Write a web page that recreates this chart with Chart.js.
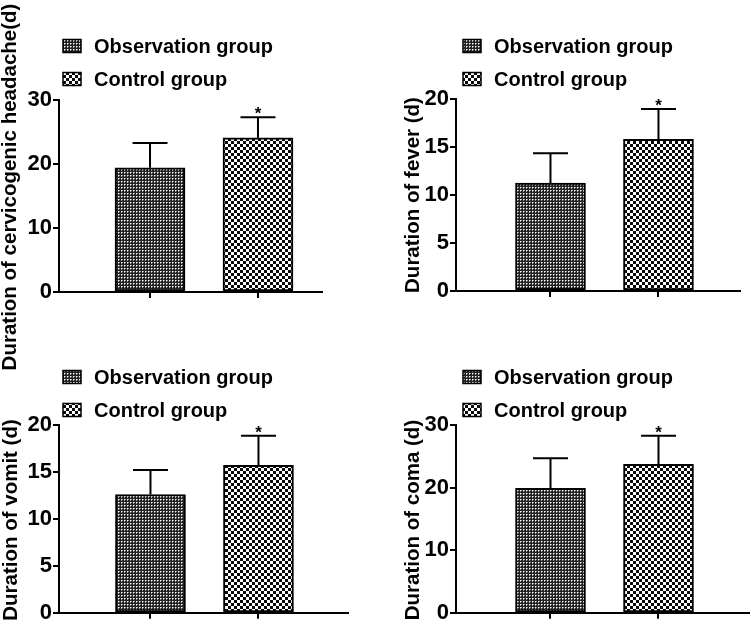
<!DOCTYPE html>
<html>
<head>
<meta charset="utf-8">
<script src="https://cdn.jsdelivr.net/npm/chart.js@4.4.1/dist/chart.umd.min.js"></script>
<style>
  html, body { margin: 0; padding: 0; background: #fff; }
  #wrap { position: relative; width: 751px; height: 627px; overflow: hidden; }
  #wrap canvas { position: absolute; left: 0; top: 0; }
</style>
</head>
<body>
<div id="wrap">
  <canvas id="c1" width="751" height="627"></canvas>
  <canvas id="c2" width="751" height="627"></canvas>
  <canvas id="c3" width="751" height="627"></canvas>
  <canvas id="c4" width="751" height="627"></canvas>
</div>
<script>
// ---------- data ----------
const groups = ['Observation group', 'Control group'];
const significant = [false, true];

const headacheMean = [19.4, 24.1];
const headacheSd = [3.9, 3.2];
const feverMean = [11.25, 15.8];
const feverSd = [3.1, 3.15];
const vomitMean = [12.6, 15.7];
const vomitSd = [2.6, 3.15];
const comaMean = [19.9, 23.7];
const comaSd = [4.8, 4.6];

const ticks30 = [0, 10, 20, 30];
const ticks20 = [0, 5, 10, 15, 20];

const FONT = '"Liberation Sans", Arial, Helvetica, sans-serif';
const Y_W = 50;   // fixed width of the y axis box
const X_H = 10;   // fixed height of the x axis box

// ---------- fill patterns ----------
function makePattern(size, draw) {
  const c = document.createElement('canvas');
  c.width = c.height = size;
  const g = c.getContext('2d');
  draw(g);
  return g.createPattern(c, 'repeat');
}

const obsFill = makePattern(3, g => {
  g.fillStyle = '#222222'; g.fillRect(0, 0, 3, 3);
  g.fillStyle = '#ffffff'; g.fillRect(1, 1, 1, 1);
  g.fillStyle = '#999999'; g.fillRect(2, 1, 1, 1); g.fillRect(1, 2, 1, 1);
});
const ctrlFill = makePattern(6, g => {
  g.fillStyle = '#ffffff'; g.fillRect(0, 0, 6, 6);
  g.fillStyle = '#0a0a0a'; g.fillRect(0, 0, 3, 3); g.fillRect(3, 3, 3, 3);
});
const fills = [obsFill, ctrlFill];

// ---------- error bars, stars, legend, y title ----------
const panelExtras = {
  id: 'panelExtras',
  afterDatasetsDraw(chart, args, o) {
    const ctx = chart.ctx;
    const ys = chart.scales.y;
    ctx.save();
    ctx.strokeStyle = '#000';
    ctx.fillStyle = '#000';
    ctx.lineWidth = 2;

    chart.data.datasets.forEach((ds, i) => {
      const bar = chart.getDatasetMeta(i).data[0];
      const mean = ds.data[0].y;
      const top = ys.getPixelForValue(mean + o.sd[i]);
      const half = bar.width / 4;
      ctx.beginPath();
      ctx.moveTo(bar.x, bar.y);
      ctx.lineTo(bar.x, top);
      ctx.moveTo(bar.x - half, top);
      ctx.lineTo(bar.x + half, top);
      ctx.stroke();
      if (significant[i]) {
        ctx.font = `bold 17px ${FONT}`;
        ctx.textAlign = 'center';
        ctx.textBaseline = 'alphabetic';
        ctx.fillText('*', bar.x, top + 2);
      }
    });

    // legend
    const [lx, ly] = o.legendAt;
    chart.data.datasets.forEach((ds, i) => {
      const cy = ly + i * 33;
      ctx.fillStyle = ds.backgroundColor;
      ctx.fillRect(lx - 9, cy - 6.5, 18, 13);
      ctx.lineWidth = 1.5;
      ctx.strokeRect(lx - 9, cy - 6.5, 18, 13);
      ctx.fillStyle = '#000';
      ctx.font = `bold 20px ${FONT}`;
      ctx.textAlign = 'left';
      ctx.textBaseline = 'middle';
      ctx.fillText(ds.label, lx + 22, cy + 1);
    });

    // y axis title
    ctx.translate(o.titleAt[0], o.titleAt[1]);
    ctx.rotate(-Math.PI / 2);
    ctx.font = `bold 20.5px ${FONT}`;
    ctx.textAlign = 'center';
    ctx.textBaseline = 'middle';
    ctx.fillText(o.title, 0, 0);
    ctx.restore();
  }
};

// ---------- panels ----------
const panels = [
  { id: 'c1', title: 'Duration of cervicogenic headache(d)', mean: headacheMean, sd: headacheSd, ticks: ticks30,
    area: { left: 59, right: 322, top: 100, bottom: 292 }, xRange: [0.157, 2.593], titleAt: [10, 187], legendAt: [72, 46] },
  { id: 'c2', title: 'Duration of fever (d)', mean: feverMean, sd: feverSd, ticks: ticks20,
    area: { left: 456, right: 740, top: 99, bottom: 291 }, xRange: [0.125, 2.755], titleAt: [413, 195], legendAt: [472, 46] },
  { id: 'c3', title: 'Duration of vomit (d)', mean: vomitMean, sd: vomitSd, ticks: ticks20,
    area: { left: 59, right: 348, top: 425, bottom: 617 }, xRange: [0.153, 2.829], titleAt: [11, 520], legendAt: [72, 377] },
  { id: 'c4', title: 'Duration of coma (d)', mean: comaMean, sd: comaSd, ticks: ticks30,
    area: { left: 456, right: 749, top: 425, bottom: 616 }, xRange: [0.125, 2.838], titleAt: [413, 520], legendAt: [472, 377] }
];

const axisLine = { color: '#000', width: 2 };
const tickGrid = { offset: false, drawOnChartArea: false, drawTicks: true, tickLength: 6, color: '#000', lineWidth: 2 };

panels.forEach(p => {
  new Chart(document.getElementById(p.id), {
    type: 'bar',
    data: {
      datasets: groups.map((g, i) => ({
        label: g,
        data: [{ x: i + 1, y: p.mean[i] }],
        backgroundColor: fills[i],
        borderColor: '#000',
        borderWidth: 2,
        borderSkipped: false,
        grouped: false,
        barThickness: 70
      }))
    },
    options: {
      responsive: false,
      animation: false,
      events: [],
      layout: {
        padding: {
          left: p.area.left - Y_W,
          right: 751 - p.area.right,
          top: p.area.top,
          bottom: 627 - p.area.bottom - X_H
        }
      },
      plugins: {
        legend: { display: false },
        tooltip: { enabled: false },
        panelExtras: { sd: p.sd, title: p.title, titleAt: p.titleAt, legendAt: p.legendAt }
      },
      scales: {
        x: {
          type: 'linear',
          offset: false,
          min: p.xRange[0],
          max: p.xRange[1],
          afterBuildTicks: s => { s.ticks = groups.map((g, i) => ({ value: i + 1 })); },
          afterFit: s => { s.height = X_H; },
          ticks: { display: false },
          grid: tickGrid,
          border: axisLine
        },
        y: {
          min: 0,
          max: p.ticks[p.ticks.length - 1],
          afterBuildTicks: s => { s.ticks = p.ticks.map(v => ({ value: v })); },
          afterFit: s => { s.width = Y_W; },
          ticks: { color: '#000', padding: 1, font: { family: FONT, size: 22, weight: 'bold' } },
          grid: tickGrid,
          border: axisLine
        }
      }
    },
    plugins: [panelExtras]
  });
});
</script>
</body>
</html>
